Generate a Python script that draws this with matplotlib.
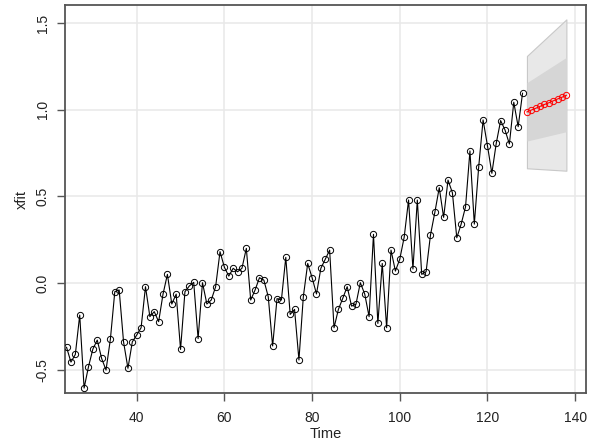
import numpy as np
import matplotlib
matplotlib.use("Agg")
import matplotlib.pyplot as plt

plt.rcParams["font.family"] = ["Liberation Sans", "DejaVu Sans"]

# observed series
t_obs = np.arange(24, 129)
xfit = [
    -0.371, -0.456, -0.412, -0.185, -0.606, -0.483, -0.381, -0.329, -0.435, -0.502,
    -0.323, -0.050, -0.040, -0.340, -0.492, -0.339, -0.300, -0.258, -0.021, -0.194,
    -0.165, -0.223, -0.064, 0.050, -0.121, -0.064, -0.383, -0.050, -0.017, 0.004,
    -0.321, 0.002, -0.121, -0.098, -0.021, 0.181, 0.091, 0.040, 0.085, 0.065,
    0.085, 0.200, -0.098, -0.040, 0.031, 0.017, -0.079, -0.363, -0.090, -0.098,
    0.148, -0.181, -0.152, -0.444, -0.079, 0.113, 0.031, -0.063, 0.085, 0.137,
    0.190, -0.258, -0.152, -0.088, -0.021, -0.133, -0.123, 0.002, -0.063, -0.194,
    0.281, -0.233, 0.113, -0.258, 0.190, 0.069, 0.138, 0.264, 0.479, 0.081,
    0.479, 0.050, 0.065, 0.277, 0.408, 0.550, 0.379, 0.594, 0.521, 0.261,
    0.340, 0.440, 0.762, 0.340, 0.671, 0.941, 0.792, 0.633, 0.806, 0.937,
    0.883, 0.802, 1.043, 0.902, 1.095,
]

# forecast
t_fc = np.arange(129, 139)
fc_mean = [0.987, 0.998, 1.008, 1.019, 1.030, 1.040, 1.051, 1.062, 1.072, 1.083]

# prediction intervals at the first and last forecast step
band_t = [129, 138]
lo95 = [0.662, 0.648]
hi95 = [1.310, 1.521]
lo80 = [0.819, 0.873]
hi80 = [1.156, 1.302]

fig = plt.figure(figsize=(5.94, 4.46), dpi=100)
ax = fig.add_axes([0.1094, 0.1182, 0.8766, 0.8706])

ax.set_xlim(23.64, 142.4)
ax.set_ylim(-0.636, 1.604)
ax.set_xticks([40, 60, 80, 100, 120, 140])
ax.set_yticks([-0.5, 0.0, 0.5, 1.0, 1.5])
ax.set_yticklabels(["-0.5", "0.0", "0.5", "1.0", "1.5"], rotation=90, va="center")

ax.grid(True, color="#e8e8e8", linewidth=1.1, zorder=0)
ax.set_axisbelow(True)

ax.fill_between(band_t, lo95, hi95, color="#e8e8e8", edgecolor="#c8c8c8",
                linewidth=0.8, zorder=1)
ax.fill_between(band_t, lo80, hi80, color="#d6d6d6", linewidth=0, zorder=2)

ax.plot(t_obs, xfit, color="black", linewidth=0.8, marker="o", markersize=4.5,
        markerfacecolor="none", markeredgecolor="black", markeredgewidth=0.7, zorder=3)
ax.plot(t_fc, fc_mean, color="red", linewidth=0.8, marker="o", markersize=4.5,
        markerfacecolor="none", markeredgecolor="red", markeredgewidth=0.7, zorder=4)

for side in ax.spines.values():
    side.set_color("#555555")
    side.set_linewidth(1.3)
ax.tick_params(axis="both", length=6, width=1.0, color="#555555",
               labelsize=10, labelcolor="#222222")
ax.tick_params(axis="x", pad=7)
ax.tick_params(axis="y", pad=5)

ax.set_xlabel("Time", fontsize=10.5, color="#222222", labelpad=1)
ax.set_ylabel("xfit", fontsize=10.5, color="#222222", labelpad=5)

fig.savefig("out.png", dpi=100)
